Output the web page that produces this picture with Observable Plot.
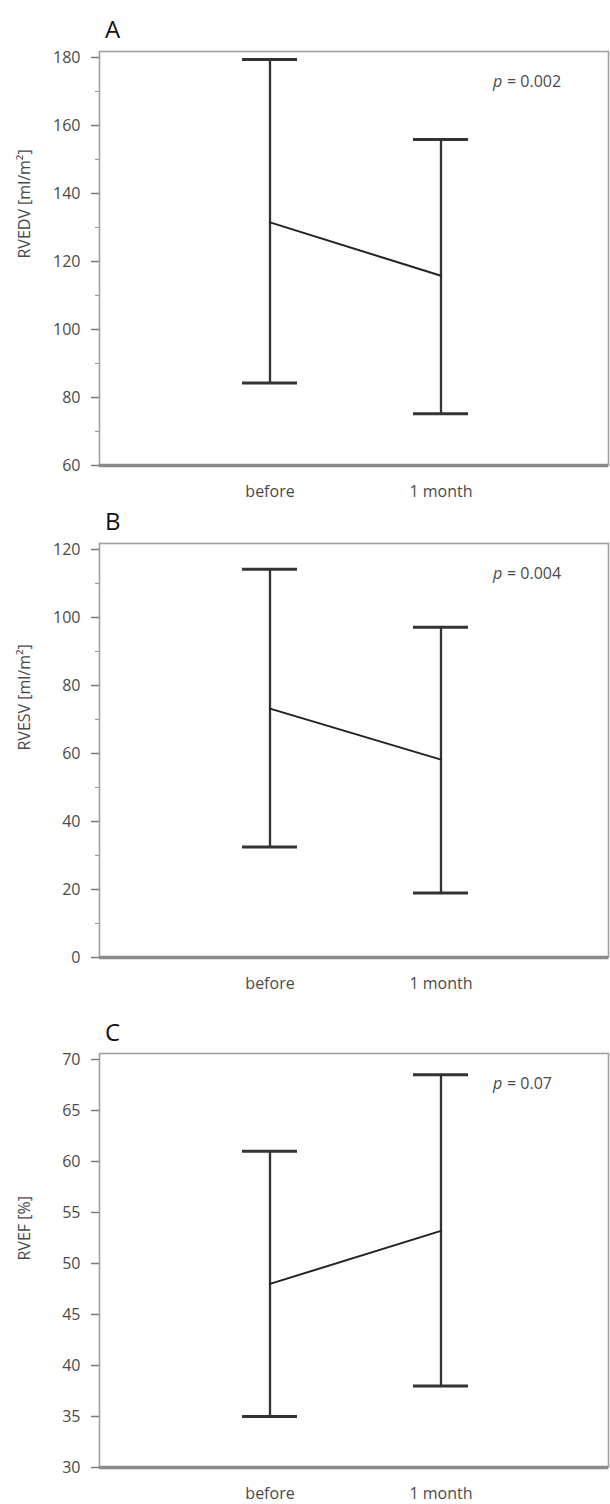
<!DOCTYPE html>
<html>
<head>
<meta charset="utf-8">
<script src="https://cdn.jsdelivr.net/npm/d3@7"></script>
<script src="https://cdn.jsdelivr.net/npm/@observablehq/plot@0.6"></script>
<style>
  body { margin: 0; background: #fff; width: 610px; height: 1504px; position: relative; overflow: hidden; font-family: "Open Sans", sans-serif; }
  .panel { position: absolute; left: 0; }
  .letter { position: absolute; left: 105px; font-size: 24px; line-height: 24px; color: #111; font-family: "Open Sans", sans-serif; }
</style>
</head>
<body>
<script>
// ---- Data ----
const timepoints = ["before", "1 month"];
const panelLetters = ["A", "B", "C"];
const yLabels = ["RVEDV [ml/m²]", "RVESV [ml/m²]", "RVEF [%]"];
const pValues = ["0.002", "0.004", "0.07"];

// RVEDV [ml/m²]
const rvedvMean = [131.5, 115.8];
const rvedvLow  = [84.3, 75.2];
const rvedvHigh = [179.4, 155.9];
// RVESV [ml/m²]
const rvesvMean = [73.2, 58.2];
const rvesvLow  = [32.5, 19.0];
const rvesvHigh = [114.2, 97.1];
// RVEF [%]
const rvefMean = [48.0, 53.2];
const rvefLow  = [35.0, 38.0];
const rvefHigh = [61.0, 68.5];

const yDomains = [[60, 180], [0, 120], [30, 70]];
const majorTicks = [
  [60, 80, 100, 120, 140, 160, 180],
  [0, 20, 40, 60, 80, 100, 120],
  [30, 35, 40, 45, 50, 55, 60, 65, 70]
];
const minorTicks = [
  [70, 90, 110, 130, 150, 170],
  [10, 30, 50, 70, 90, 110],
  []
];

// ---- Layout ----
const svgTops = [46, 538, 1048];
const letterTops = [17, 509, 1020];

const series = [
  [rvedvMean, rvedvLow, rvedvHigh],
  [rvesvMean, rvesvLow, rvesvHigh],
  [rvefMean, rvefLow, rvefHigh]
];

series.forEach(([mean, low, high], k) => {
  const rows = timepoints.map((t, i) => ({t, mean: mean[i], low: low[i], high: high[i]}));
  const dom = yDomains[k];

  const chart = Plot.plot({
    width: 610,
    height: 456,
    marginTop: 5,
    marginBottom: 37,
    marginLeft: 99,
    marginRight: 2,
    style: {fontFamily: "'Open Sans', sans-serif", fontSize: "16px", color: "#4a4a4a", background: "transparent", overflow: "visible"},
    x: {type: "band", domain: timepoints, paddingInner: 0.678, paddingOuter: 0.827, align: 0.507},
    y: {domain: dom, insetTop: 6},
    marks: [
      Plot.frame({stroke: "#a0a0a0", strokeWidth: 1.6}),
      Plot.ruleY([dom[0]], {stroke: "#8a8a8a", strokeWidth: 3.5}),
      Plot.axisY({ticks: majorTicks[k], tickSize: 8, tickPadding: 11, label: null, stroke: "#7a7a7a", strokeWidth: 1.5, fill: "#4a4a4a"}),
      Plot.axisY({ticks: minorTicks[k], tickSize: 4, tickFormat: () => "", label: null, stroke: "#9a9a9a", strokeWidth: 1.2}),
      Plot.axisX({tickSize: 0, tickPadding: 20, label: null, fill: "#4a4a4a"}),
      Plot.text([yLabels[k]], {text: d => d, frameAnchor: "left", dx: -75, rotate: -90, fill: "#4a4a4a", fontSize: 16}),
      Plot.ruleX(rows, {x: "t", y1: "low", y2: "high", stroke: "#333", strokeWidth: 2.3}),
      Plot.tickY(rows, {x: "t", y: "low", stroke: "#333", strokeWidth: 3}),
      Plot.tickY(rows, {x: "t", y: "high", stroke: "#333", strokeWidth: 3}),
      Plot.line(rows, {x: "t", y: "mean", stroke: "#222", strokeWidth: 2}),
      Plot.text([{t: "1 month", s: "p"}], {x: "t", text: "s", frameAnchor: "top", dx: 52, dy: 24, textAnchor: "start", fontStyle: "italic", fill: "#4a4a4a", fontSize: 16}),
      Plot.text([{t: "1 month", s: "= " + pValues[k]}], {x: "t", text: "s", frameAnchor: "top", dx: 66, dy: 24, textAnchor: "start", fill: "#4a4a4a", fontSize: 16})
    ]
  });

  const wrap = document.createElement("div");
  wrap.className = "panel";
  wrap.style.top = svgTops[k] + "px";
  wrap.appendChild(chart);
  document.body.appendChild(wrap);

  const letter = document.createElement("div");
  letter.className = "letter";
  letter.style.top = letterTops[k] + "px";
  letter.textContent = panelLetters[k];
  document.body.appendChild(letter);
});
</script>
</body>
</html>
